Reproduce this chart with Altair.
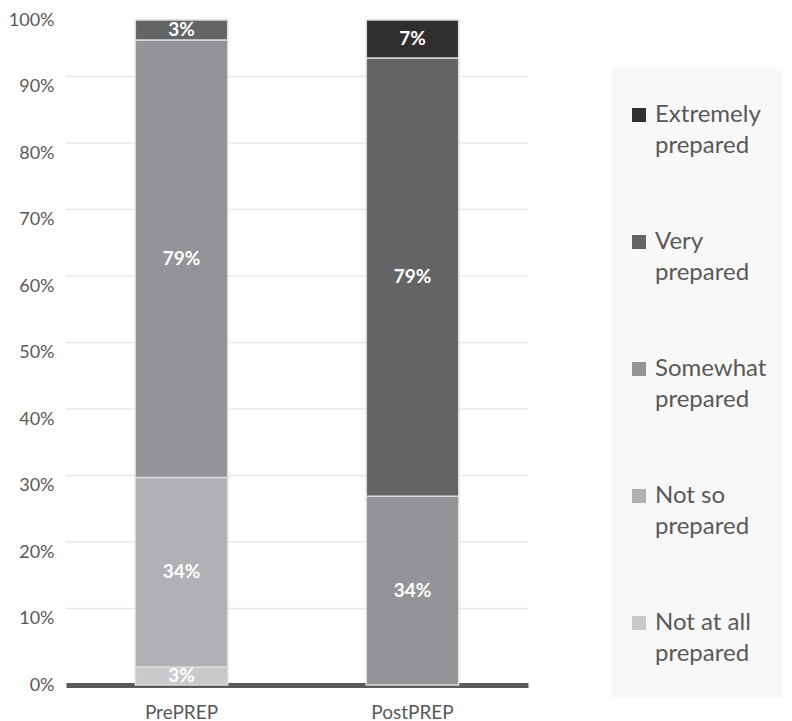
import altair as alt
import pandas as pd

# ---- data ----
groups = ["PrePREP", "PostPREP"]
categories = ["Not at all prepared", "Not so prepared", "Somewhat prepared",
              "Very prepared", "Extremely prepared"]
legend_line1 = ["Not at all", "Not so", "Somewhat", "Very", "Extremely"]
legend_line2 = ["prepared", "prepared", "prepared", "prepared", "prepared"]
colors = ["#c9c9cb", "#b0b1b4", "#939497", "#636466", "#302e2f"]

# segment heights (percent of bar) as drawn
pre_values = [2.7, 28.5, 65.8, 3.0, 0]
post_values = [0, 0, 28.4, 65.9, 5.7]
# data labels as printed on the bars
pre_labels = ["3%", "34%", "79%", "3%", ""]
post_labels = ["", "", "34%", "79%", "7%"]

y_ticks = [0, 10, 20, 30, 40, 50, 60, 70, 80, 90, 100]
grid_values = [10, 20, 30, 40, 50, 60, 70, 80, 90]

rows = []
for g, vals, labs in ((groups[0], pre_values, pre_labels),
                      (groups[1], post_values, post_labels)):
    for i, (c, v, l) in enumerate(zip(categories, vals, labs)):
        if v > 0:
            rows.append(dict(group=g, cat=c, rank=i, value=v, label=l))
df = pd.DataFrame(rows)

FONT = "Lato"
TXT = "#595959"
color_scale = alt.Scale(domain=categories, range=colors)

x_enc = alt.X(
    "group:N", sort=groups, title=None,
    scale=alt.Scale(paddingInner=0.6, paddingOuter=0.3),
    axis=alt.Axis(labelAngle=0, labelFontSize=19, labelColor=TXT, labelFont=FONT,
                  labelPadding=18, domainColor="#595959", domainWidth=5,
                  ticks=False, grid=False),
)
y_scale = alt.Scale(domain=[0, 100], nice=False)

grid = alt.Chart(pd.DataFrame({"v": grid_values})).mark_rule(
    color="#e8e8e8", strokeWidth=1.5, yOffset=-10
).encode(y=alt.Y("v:Q", scale=y_scale))

bars = alt.Chart(df).mark_bar(stroke="#dcdcdc", strokeWidth=1.5).encode(
    x=x_enc,
    y=alt.Y("value:Q", stack="zero", scale=y_scale, title=None,
            axis=alt.Axis(values=y_ticks, labelExpr="datum.value + '%'",
                          labelFontSize=18, labelColor=TXT, labelFont=FONT,
                          labelPadding=12, domain=False, ticks=False, grid=False)),
    color=alt.Color("cat:N", scale=color_scale, legend=None),
    order=alt.Order("rank:Q", sort="ascending"),
)

labels = alt.Chart(df).transform_stack(
    stack="value", groupby=["group"], as_=["y0", "y1"],
    sort=[alt.SortField("rank", "ascending")]
).transform_calculate(
    mid="(datum.y0 + datum.y1) / 2"
).mark_text(color="white", fontWeight="bold", fontSize=19, font=FONT).encode(
    x=alt.X("group:N", sort=groups),
    y=alt.Y("mid:Q", scale=y_scale),
    text="label:N",
)

main = alt.layer(grid, bars, labels).properties(width=462, height=665)

# ---- legend panel ----
leg_df = pd.DataFrame({"cat": categories, "l1": legend_line1, "l2": legend_line2})
leg_y = alt.Y("cat:N", axis=None,
              scale=alt.Scale(type="point", domain=categories[::-1],
                              range=[95, 603], padding=0))

panel = alt.Chart(leg_df).mark_rect(color="#f8f8f8").encode(
    x=alt.value(0), x2=alt.value(171), y=alt.value(48), y2=alt.value(678)
)
sym = alt.Chart(leg_df).mark_square(size=196, opacity=1).encode(
    x=alt.value(27), y=leg_y,
    color=alt.Color("cat:N", scale=color_scale, legend=None),
)
t1 = alt.Chart(leg_df).mark_text(align="left", baseline="middle", fontSize=24,
                                 font=FONT, color=TXT).encode(
    x=alt.value(43), y=leg_y, text="l1:N")
t2 = alt.Chart(leg_df).mark_text(align="left", baseline="middle", fontSize=24,
                                 font=FONT, color=TXT, dy=31).encode(
    x=alt.value(43), y=leg_y, text="l2:N")

legend = alt.layer(panel, sym, t1, t2).properties(width=171, height=665)

chart = alt.hconcat(main, legend, spacing=83).properties(
    padding={"top": 3, "left": 0, "right": 0, "bottom": 0}, background="white"
).configure_view(stroke=None)

chart.save("out.html", embed_options={"renderer": "svg", "actions": False})
